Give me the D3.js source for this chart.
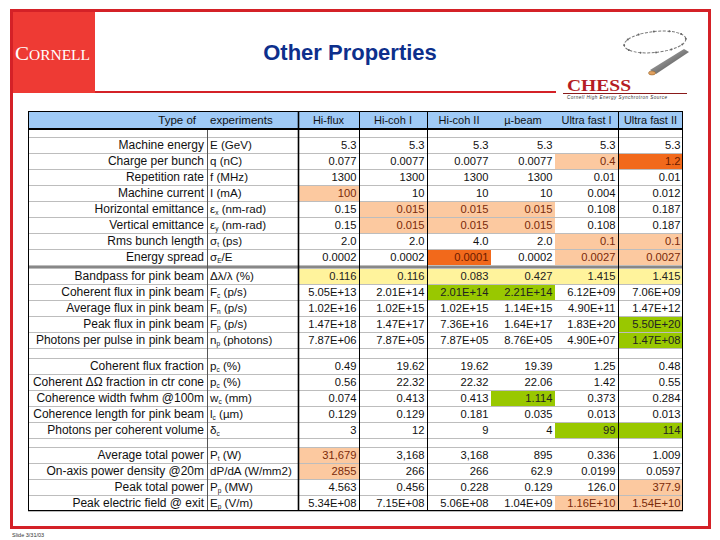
<!DOCTYPE html>
<html><head><meta charset="utf-8">
<script src="https://cdn.jsdelivr.net/npm/d3@7"></script>
<style>body{margin:0;background:#fff}svg{display:block}</style>
</head><body>
<svg id="c" width="720" height="540"></svg>
<script>
// ---------------- data ----------------
const experiments = ["Hi-flux","Hi-coh I","Hi-coh II","\u00b5-beam","Ultra fast I","Ultra fast II"];
const parameters = ["Machine energy","Charge per bunch","Repetition rate","Machine current","Horizontal emittance","Vertical emittance","Rms bunch length","Energy spread",
  "Bandpass for pink beam","Coherent flux in pink beam","Average flux in pink beam","Peak flux in pink beam","Photons per pulse in pink beam",
  "Coherent flux fraction","Coherent \u0394\u03a9 fraction in ctr cone","Coherence width fwhm @100m","Coherence length for pink beam","Photons per coherent volume",
  "Average total power","On-axis power density @20m","Peak total power","Peak electric field @ exit"];
const units = ["E (GeV)","q (nC)","f (MHz)","I (mA)","\u03b5_x (nm-rad)","\u03b5_y (nm-rad)","\u03c3_t (ps)","\u03c3_E/E",
  "\u0394\u03bb/\u03bb (%)","F_c (p/s)","F_n (p/s)","F_p (p/s)","n_p (photons)",
  "p_c (%)","p_c (%)","w_c (mm)","l_c (\u00b5m)","\u03b4_c",
  "P_t (W)","dP/dA (W/mm2)","P_p (MW)","E_p (V/m)"];
const sectionSizes = [8,5,5,4];
const hiFlux     = ["5.3","0.077","1300","100","0.15","0.15","2.0","0.0002","0.116","5.05E+13","1.02E+16","1.47E+18","7.87E+06","0.49","0.56","0.074","0.129","3","31,679","2855","4.563","5.34E+08"];
const hiCohI     = ["5.3","0.0077","1300","10","0.015","0.015","2.0","0.0002","0.116","2.01E+14","1.02E+15","1.47E+17","7.87E+05","19.62","22.32","0.413","0.129","12","3,168","266","0.456","7.15E+08"];
const hiCohII    = ["5.3","0.0077","1300","10","0.015","0.015","4.0","0.0001","0.083","2.01E+14","1.02E+15","7.36E+16","7.87E+05","19.62","22.32","0.413","0.181","9","3,168","266","0.228","5.06E+08"];
const muBeam     = ["5.3","0.0077","1300","10","0.015","0.015","2.0","0.0002","0.427","2.21E+14","1.14E+15","1.64E+17","8.76E+05","19.39","22.06","1.114","0.035","4","895","62.9","0.129","1.04E+09"];
const ultraFastI = ["5.3","0.4","0.01","0.004","0.108","0.108","0.1","0.0027","1.415","6.12E+09","4.90E+11","1.83E+20","4.90E+07","1.25","1.42","0.373","0.013","99","0.336","0.0199","126.0","1.16E+10"];
const ultraFastII= ["5.3","1.2","0.01","0.012","0.187","0.187","0.1","0.0027","1.415","7.06E+09","1.47E+12","5.50E+20","1.47E+08","0.48","0.55","0.284","0.013","114","1.009","0.0597","377.9","1.54E+10"];
const columnValues = [hiFlux,hiCohI,hiCohII,muBeam,ultraFastI,ultraFastII];
// highlighted cells: [row, column, kind]
const highlights = [
  [3,0,"mild"],[4,1,"mild"],[4,2,"mild"],[4,3,"mild"],[5,1,"mild"],[5,2,"mild"],[5,3,"mild"],
  [1,4,"mild"],[1,5,"strong"],[6,4,"mild"],[6,5,"mild"],[7,2,"strong"],[7,4,"mild"],[7,5,"mild"],
  [8,0,"band"],[8,1,"band"],[8,2,"band"],[8,3,"band"],[8,4,"band"],[8,5,"band"],
  [9,2,"best"],[9,3,"best"],[11,5,"best"],[12,5,"best"],[15,3,"best"],[17,4,"best"],[17,5,"best"],
  [18,0,"mild"],[19,0,"mild"],[20,5,"mild"],[21,4,"mild"],[21,5,"mild"]];
const title = "Other Properties";
const footer = "Slide 3/31/03";

// ---------------- drawing ----------------
const svg = d3.select("#c");
const FONT = "'Liberation Sans', Arial, sans-serif";
const RED = "#d42127";

// table geometry
const colWidths = [179, 91, 61, 68, 64, 64, 63, 65]; // label, unit, 6 experiments
const x0 = 28;
const edges = [x0, ...d3.cumsum(colWidths).map(v => x0 + v)];
const xScale = d3.scaleOrdinal().domain(d3.range(edges.length)).range(edges);

// vertical layout as a sequence of bands
const items = [{type:"header",h:18},{type:"blank",h:8}];
let r = 0;
sectionSizes.forEach((n,si) => {
  for (let i=0;i<n;i++) items.push({type:"row",h:16,row:r++});
  if (si === 0) items.push({type:"sep",h:3});
  else if (si === 1) items.push({type:"gap",h:10});
  else if (si === 2) items.push({type:"gap",h:9});
});
const cum = [0, ...d3.cumsum(items.map(d=>d.h))];
const total = cum[cum.length-1];
const yScale = d3.scaleLinear().domain([0,total]).range([111,511]);
items.forEach((d,i)=>{ d.y0 = yScale(cum[i]); d.y1 = yScale(cum[i+1]); });
const rowItem = {}; items.filter(d=>d.type==="row").forEach(d=>rowItem[d.row]=d);

const colorKind = d3.scaleOrdinal().domain(["mild","strong","band","best"]).range(["#fcc9a0","#f2691b","#fff39c","#99c800"]);
const textKind = d3.scaleOrdinal().domain(["mild","strong","band","best"]).range(["#7a2a0a","#6a1a00","#222","#222"]);

// ----- frame and header graphics -----
svg.append("rect").attr("x",0).attr("y",0).attr("width",720).attr("height",540).attr("fill","#fff");
// Cornell block
svg.append("rect").attr("x",11).attr("y",10).attr("width",84).attr("height",83).attr("fill","#ee3a34");
svg.append("text").attr("x",15).attr("y",60).attr("fill","#fff")
  .attr("font-family","'Liberation Serif', 'DejaVu Serif', serif").attr("textLength",75).attr("lengthAdjust","spacingAndGlyphs")
  .call(t=>{ t.append("tspan").attr("font-size",19).text("C"); t.append("tspan").attr("font-size",14).text("ORNELL"); });
// red line under title
svg.append("line").attr("x1",95).attr("x2",556).attr("y1",92).attr("y2",92).attr("stroke",RED).attr("stroke-width",2.2);
// outer frame
svg.append("rect").attr("x",11.5).attr("y",10.5).attr("width",698).attr("height",517).attr("fill","none").attr("stroke",RED).attr("stroke-width",3);
// title
svg.append("text").attr("x",350).attr("y",60).attr("text-anchor","middle").attr("font-family",FONT)
  .attr("font-weight","bold").attr("font-size",22).attr("fill","#0d2f8c").text(title);

// CHESS logo
const lg = svg.append("g");
lg.append("ellipse").attr("cx",655).attr("cy",42).attr("rx",31).attr("ry",10.5)
  .attr("transform","rotate(-6 655 42)").attr("fill","none").attr("stroke","#777").attr("stroke-width",1)
  .attr("stroke-dasharray","3 1.5");
d3.range(12).forEach(i=>{
  const a = i/12*2*Math.PI;
  lg.append("circle").attr("cx",655+31*Math.cos(a)).attr("cy",42+10.5*Math.sin(a)).attr("r",1)
    .attr("fill","#666").attr("transform","rotate(-6 655 42)");
});
const grad = svg.append("defs").append("linearGradient").attr("id","tube").attr("x1","0").attr("y1","0").attr("x2","1").attr("y2","1");
grad.append("stop").attr("offset","0").attr("stop-color","#ccc");
grad.append("stop").attr("offset","1").attr("stop-color","#333");
lg.append("path").attr("d","M684,49 L689,52 L656,74 L650,70 Z").attr("fill","url(#tube)");
lg.append("ellipse").attr("cx",652).attr("cy",73).attr("rx",3.5).attr("ry",2).attr("fill","#e0a060").attr("stroke","#8a5a20").attr("stroke-width",0.5);
lg.append("text").attr("x",567).attr("y",91).attr("font-family","'Liberation Serif', serif").attr("font-weight","bold")
  .attr("font-size",17).attr("fill","#b51d24").attr("textLength",64).attr("lengthAdjust","spacingAndGlyphs").text("CHESS");
lg.append("line").attr("x1",563).attr("x2",687).attr("y1",93.5).attr("y2",93.5).attr("stroke","#8a1a1a").attr("stroke-width",1);
lg.append("text").attr("x",567).attr("y",99).attr("font-family",FONT).attr("font-style","italic")
  .attr("font-size",4.6).attr("fill","#333").attr("textLength",100).text("Cornell High Energy Synchrotron Source");

// footer
svg.append("text").attr("x",12).attr("y",537).attr("font-family",FONT).attr("font-size",5.5).attr("fill","#333").text(footer);

// ----- table -----
const T = svg.append("g");
const xL = edges[0], xR = edges[edges.length-1];
// header fill
const hdr = items[0];
T.append("rect").attr("x",xL).attr("y",hdr.y0).attr("width",xR-xL).attr("height",hdr.y1-hdr.y0).attr("fill","#9fcaf6");

// highlight fills
T.selectAll("rect.hl").data(highlights).join("rect").attr("class","hl")
  .attr("x",d=>xScale(d[1]+2)).attr("width",d=>xScale(d[1]+3)-xScale(d[1]+2))
  .attr("y",d=>rowItem[d[0]].y0).attr("height",d=>rowItem[d[0]].y1-rowItem[d[0]].y0)
  .attr("fill",d=>colorKind(d[2]));

// horizontal gray grid lines
const hLines = [];
items.forEach((d,i)=>{ if (d.type==="row") { hLines.push(d.y0); hLines.push(d.y1); } });
T.selectAll("line.h").data(Array.from(new Set(hLines.map(v=>Math.round(v*10)/10)))).join("line").attr("class","h")
  .attr("x1",xL).attr("x2",xR).attr("y1",d=>d+0.5).attr("y2",d=>d+0.5).attr("stroke","#bdbdbd").attr("stroke-width",1);
// blank row top line
T.append("line").attr("x1",xL).attr("x2",xR).attr("y1",items[1].y1+0.5).attr("y2",items[1].y1+0.5).attr("stroke","#bdbdbd");
// section separator (dark)
const sep = items.find(d=>d.type==="sep");
T.append("line").attr("x1",xL).attr("x2",xR).attr("y1",sep.y0+2).attr("y2",sep.y0+2).attr("stroke","#111").attr("stroke-width",1);

// vertical lines
const vDefs = [[1,"#555",1],[2,"#000",1.6],[3,"#000",1],[4,"#000",1],[7,"#000",1]];
T.selectAll("line.v").data(vDefs).join("line").attr("class","v")
  .attr("x1",d=>xScale(d[0])+0.5).attr("x2",d=>xScale(d[0])+0.5)
  .attr("y1",d=> d[0]===1 ? items[1].y0 : hdr.y0).attr("y2",yScale(total))
  .attr("stroke",d=>d[1]).attr("stroke-width",d=>d[2]);
// header bottom thick
T.append("line").attr("x1",xL).attr("x2",xR).attr("y1",hdr.y1).attr("y2",hdr.y1).attr("stroke","#000").attr("stroke-width",2);
// outer border
T.append("rect").attr("x",xL+0.5).attr("y",hdr.y0+0.5).attr("width",xR-xL-1).attr("height",yScale(total)-hdr.y0-1)
  .attr("fill","none").attr("stroke","#000").attr("stroke-width",1);

// header text
const hy = (hdr.y0+hdr.y1)/2 + 4;
T.append("text").attr("x",xScale(1)-11).attr("y",hy).attr("text-anchor","end").attr("font-family",FONT).attr("font-size",11.5).attr("fill","#111").text("Type of");
T.append("text").attr("x",xScale(1)+3).attr("y",hy).attr("font-family",FONT).attr("font-size",11.5).attr("fill","#111").text("experiments");
T.selectAll("text.colh").data(experiments).join("text").attr("class","colh")
  .attr("x",(d,i)=>(xScale(i+2)+xScale(i+3))/2).attr("y",hy).attr("text-anchor","middle")
  .attr("font-family",FONT).attr("font-size",11).attr("fill","#111").text(d=>d);

// parameter labels
T.selectAll("text.lab").data(parameters).join("text").attr("class","lab")
  .attr("x",xScale(1)-3).attr("y",(d,i)=>(rowItem[i].y0+rowItem[i].y1)/2+4).attr("text-anchor","end")
  .attr("font-family",FONT).attr("font-size",12).attr("fill","#111").text(d=>d);

// units with subscripts
T.selectAll("text.unit").data(units).join("text").attr("class","unit")
  .attr("x",xScale(1)+3).attr("y",(d,i)=>(rowItem[i].y0+rowItem[i].y1)/2+4)
  .attr("font-family",FONT).attr("font-size",11.6).attr("fill","#111")
  .each(function(d){
    const t = d3.select(this);
    const parts = d.split(/_(.)/);
    parts.forEach((p,k)=>{
      if (k%2===1) t.append("tspan").attr("font-size",6.5).attr("dy",2).text(p);
      else if (p.length) t.append("tspan").attr("dy",k>0?-2:0).text(p);
    });
  });

// values
const hlMap = new Map(highlights.map(h=>[h[0]+"-"+h[1],h[2]]));
columnValues.forEach((vals,c)=>{
  T.selectAll("text.val"+c).data(vals).join("text").attr("class","val"+c)
    .attr("x",xScale(c+3)-2.5).attr("y",(d,i)=>(rowItem[i].y0+rowItem[i].y1)/2+4).attr("text-anchor","end")
    .attr("font-family",FONT).attr("font-size",11.2)
    .attr("fill",(d,i)=>{ const k = hlMap.get(i+"-"+c); return k ? textKind(k) : "#111"; })
    .text(d=>d);
});
</script>
</body></html>
